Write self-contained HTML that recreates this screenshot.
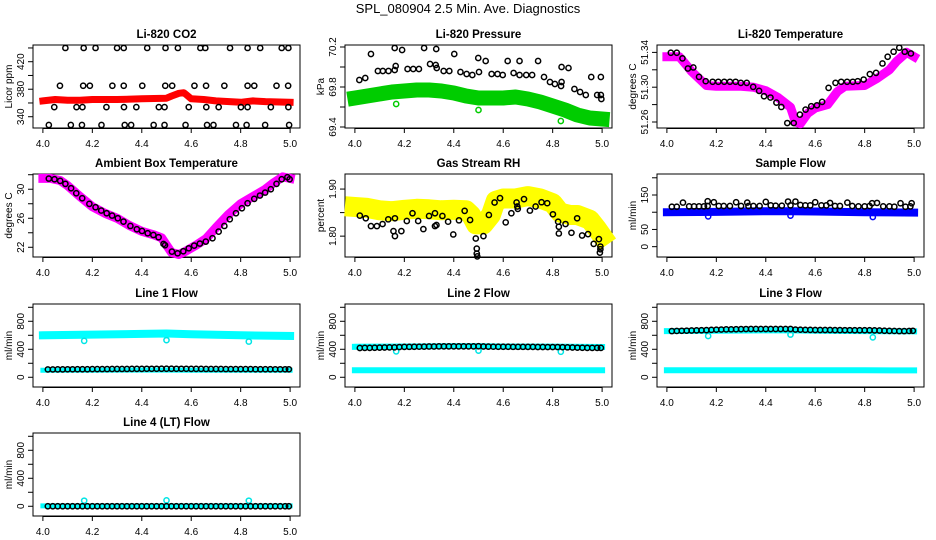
<!DOCTYPE html>
<html><head><meta charset="utf-8"><style>
html,body{margin:0;padding:0;background:#fff;}
svg{display:block;font-family:"Liberation Sans",sans-serif;}
</style></head><body>
<svg id="chart" width="936" height="540" viewBox="0 0 936 540">
<text x="468" y="13" text-anchor="middle" font-size="13">SPL_080904  2.5 Min. Ave. Diagnostics</text>
</svg>
<script>
// ---------- data ----------
const xTicks = [4.0,4.2,4.4,4.6,4.8,5.0];
const xTickLabels = ["4.0","4.2","4.4","4.6","4.8","5.0"];

// CO2
const co2RedX = [4.0,4.05,4.1,4.15,4.2,4.3,4.4,4.5,4.52,4.55,4.57,4.58,4.6,4.65,4.7,4.8,4.85,4.9,5.0];
const co2RedY = [363,365,364,364,365,365,366,367,370,374,375,372,366,365,363,361,363,362,361];
const co2BlkX = [4.091,4.165,4.213,4.30,4.327,4.422,4.496,4.546,4.637,4.657,4.757,4.828,4.879,4.966,4.993,
 4.069,4.163,4.19,4.281,4.327,4.402,4.495,4.523,4.613,4.66,4.734,4.828,4.855,4.945,4.992,
 4.046,4.136,4.16,4.257,4.328,4.378,4.469,4.492,4.59,4.661,4.711,4.801,4.828,4.922,4.993,
 4.024,4.113,4.158,4.237,4.331,4.357,4.448,4.492,4.577,4.664,4.69,4.781,4.824,4.899,4.996];
const co2BlkY = [440,440,440,440,440,440,440,440,440,440,440,440,440,440,440,
 385,385,385,385,385,385,385,385,385,385,385,385,385,385,385,
 354,354,354,354,354,354,354,354,354,354,354,354,354,354,354,
 328,328,328,328,328,328,328,328,328,328,328,328,328,328,328];

// Pressure
const presGreenX = [4.0,4.05,4.1,4.15,4.2,4.25,4.3,4.35,4.4,4.45,4.5,4.55,4.6,4.65,4.7,4.75,4.8,4.85,4.9,4.95,5.0];
const presGreenY = [69.69,69.71,69.73,69.75,69.76,69.77,69.77,69.76,69.74,69.71,69.69,69.69,69.69,69.70,69.68,69.65,69.61,69.57,69.52,69.49,69.48];
const presGreenOutX = [4.167,4.5,4.833];
const presGreenOutY = [69.63,69.57,69.46];
const presBlkX = [4.018,4.042,4.065,4.093,4.113,4.136,4.161,4.165,4.161,4.191,4.213,4.236,4.259,4.28,4.304,4.329,4.327,4.331,4.359,4.382,4.402,4.427,4.452,4.475,4.499,4.502,4.529,4.553,4.577,4.598,4.618,4.642,4.666,4.666,4.693,4.717,4.741,4.765,4.789,4.809,4.834,4.836,4.836,4.864,4.888,4.911,4.934,4.956,4.98,4.995,4.995,4.997];
const presBlkY = [69.87,69.89,70.13,69.96,69.96,69.96,69.97,70.01,70.19,70.17,69.98,69.98,69.98,70.19,70.03,70.18,70.02,69.99,69.96,69.96,70.13,69.95,69.93,69.92,70.09,69.95,70.06,69.93,69.93,69.92,70.06,69.94,70.06,69.92,69.92,69.92,70.06,69.90,69.85,69.83,69.81,69.85,70.0,69.99,69.78,69.75,69.72,69.90,69.72,69.72,69.90,69.68];

// Li-820 temperature
const ltMagX = [4.0,4.05,4.08,4.1,4.13,4.16,4.2,4.3,4.35,4.4,4.45,4.5,4.52,4.54,4.57,4.6,4.65,4.69,4.72,4.8,4.85,4.9,4.93,4.97,5.0];
const ltMagY = [51.335,51.335,51.325,51.318,51.31,51.302,51.301,51.301,51.300,51.296,51.288,51.277,51.26,51.258,51.27,51.276,51.28,51.295,51.301,51.302,51.31,51.32,51.33,51.34,51.335];
const ltBlkX = [4.016,4.040,4.063,4.085,4.107,4.130,4.157,4.185,4.208,4.232,4.255,4.278,4.299,4.323,4.349,4.373,4.393,4.419,4.443,4.463,4.487,4.513,4.538,4.561,4.584,4.607,4.628,4.654,4.682,4.705,4.729,4.752,4.772,4.796,4.821,4.846,4.872,4.893,4.917,4.940,4.962,4.987];
const ltBlkY = [51.3396,51.3396,51.3331,51.3215,51.3227,51.3119,51.3069,51.3062,51.3062,51.3062,51.3062,51.3062,51.3050,51.3050,51.3004,51.2958,51.2896,51.2881,51.2823,51.2773,51.2588,51.2588,51.2685,51.2742,51.2781,51.2792,51.2831,51.2992,51.3050,51.3062,51.3062,51.3062,51.3069,51.3088,51.3150,51.3165,51.3273,51.3350,51.3408,51.3454,51.3408,51.3388];

// Ambient box temperature
const ambMagX = [4.0,4.03,4.07,4.1,4.15,4.2,4.25,4.3,4.35,4.4,4.45,4.48,4.5,4.52,4.55,4.58,4.62,4.66,4.7,4.75,4.8,4.85,4.9,4.93,4.97,5.0];
const ambMagY = [31.5,31.5,31.2,30.5,29.0,27.6,26.7,26.0,25.0,24.2,23.7,23.3,22.3,21.3,21.0,21.5,22.3,23.2,24.7,26.5,28.0,29.0,30.0,30.8,31.7,31.5];
const ambBlkX = [4.024,4.047,4.070,4.091,4.114,4.135,4.159,4.188,4.213,4.236,4.258,4.280,4.303,4.326,4.354,4.380,4.401,4.424,4.447,4.468,4.488,4.494,4.522,4.545,4.568,4.590,4.612,4.635,4.659,4.686,4.711,4.734,4.756,4.781,4.805,4.828,4.855,4.878,4.899,4.922,4.945,4.966,4.989,4.998];
const ambBlkY = [31.47,31.38,31.15,30.74,30.14,29.45,28.76,27.98,27.52,27.06,26.69,26.37,26.0,25.54,24.94,24.48,24.25,23.93,23.7,23.38,22.46,22.28,21.4,21.17,21.45,21.86,22.23,22.51,22.78,23.24,24.16,24.94,25.86,26.69,27.38,28.07,28.67,29.13,29.54,30.0,30.74,31.38,31.66,31.38];

// Gas stream RH
const rhYelX = [4.0,4.05,4.1,4.15,4.2,4.25,4.3,4.35,4.4,4.45,4.47,4.49,4.52,4.55,4.57,4.6,4.65,4.7,4.75,4.8,4.83,4.87,4.9,4.95,4.98,5.0];
const rhYelY = [1.862,1.860,1.855,1.853,1.856,1.858,1.857,1.855,1.856,1.855,1.845,1.825,1.825,1.845,1.875,1.880,1.880,1.885,1.880,1.870,1.850,1.845,1.845,1.835,1.815,1.800];
const rhBlkX = [4.020,4.044,4.065,4.089,4.112,4.135,4.156,4.162,4.162,4.188,4.210,4.233,4.256,4.277,4.300,4.324,4.324,4.330,4.354,4.377,4.398,4.421,4.444,4.466,4.489,4.493,4.493,4.495,4.520,4.542,4.565,4.587,4.610,4.633,4.654,4.657,4.659,4.684,4.708,4.731,4.755,4.778,4.801,4.822,4.825,4.825,4.852,4.876,4.899,4.919,4.943,4.966,4.987,4.993,4.993,4.991];
const rhBlkY = [1.8436,1.8379,1.8214,1.8214,1.8257,1.8357,1.8107,1.8379,1.8000,1.8107,1.8321,1.8486,1.8321,1.8150,1.8429,1.8486,1.8214,1.8236,1.8429,1.8307,1.8036,1.8336,1.8536,1.8343,1.7950,1.7736,1.7629,1.7571,1.8000,1.8450,1.8714,1.8807,1.8293,1.8486,1.8714,1.8629,1.8579,1.8786,1.8543,1.8629,1.8721,1.8700,1.8464,1.8307,1.8200,1.8057,1.8257,1.8071,1.8379,1.8014,1.8043,1.7836,1.7936,1.7779,1.7721,1.7650];

// Sample flow
const sfBlueX = [4.0,4.2,4.4,4.5,4.6,4.8,5.0];
const sfBlueY = [100,101,103,103,102,100,99];
const sfBlueOutX = [4.167,4.5,4.833];
const sfBlueOutY = [88,90,86];
const sfBlkX = [4.02,4.04,4.065,4.09,4.11,4.13,4.15,4.165,4.165,4.19,4.21,4.23,4.255,4.28,4.3,4.325,4.33,4.35,4.375,4.4,4.42,4.44,4.465,4.49,4.5,4.52,4.54,4.56,4.58,4.6,4.625,4.645,4.66,4.68,4.7,4.73,4.75,4.775,4.8,4.82,4.83,4.85,4.875,4.9,4.92,4.945,4.965,4.985,4.99];
const sfBlkY = [116,116,128,117,117,117,117,132,118,129,118,118,118,129,118,128,118,118,118,130,120,119,119,131,120,131,121,120,120,129,120,120,127,118,118,128,118,117,117,118,126,127,117,117,116,126,116,117,126];

// Line flows
const lnBlkX = [4.02,4.04,4.06,4.08,4.10,4.12,4.14,4.16,4.18,4.20,4.22,4.24,4.26,4.28,4.30,4.32,4.34,4.36,4.38,4.40,4.42,4.44,4.46,4.48,4.50,4.52,4.54,4.56,4.58,4.60,4.62,4.64,4.66,4.68,4.70,4.72,4.74,4.76,4.78,4.80,4.82,4.84,4.86,4.88,4.90,4.92,4.94,4.96,4.98,4.995];
const l1BlkY = [112,112,113,113,114,114,115,115,115,116,116,117,117,118,118,119,119,120,120,120,121,121,121,122,122,122,121,121,121,120,120,120,119,119,118,118,117,117,117,116,116,116,115,115,115,115,114,114,114,114];
const l2BlkY = [418,420,420,422,424,425,427,428,432,434,435,436,437,438,440,440,441,441,441,441,442,442,442,442,443,440,438,437,436,436,436,435,435,435,434,434,433,433,432,432,432,430,428,425,423,422,420,420,420,420];
const l3BlkY = [660,662,664,666,668,670,672,674,678,680,682,684,685,686,688,689,690,690,690,690,690,690,690,690,690,682,680,678,677,676,676,675,675,674,674,673,673,672,672,672,672,670,668,665,663,662,660,660,662,664];
const l4BlkY = [0,0,0,0,0,0,0,0,0,0,0,0,0,0,0,0,0,0,0,0,0,0,0,0,0,0,0,0,0,0,0,0,0,0,0,0,0,0,0,0,0,0,0,0,0,0,0,0,0,0];
const lnBandX = [4.0,4.2,4.4,4.5,4.6,4.8,5.0];
const l1CyanHiY = [600,610,620,625,615,600,590];
const l1CyanLoY = [100,100,102,102,101,100,100];
const l2CyanHiY = [435,440,445,445,440,438,432];
const l2CyanLoY = [100,100,100,100,100,100,100];
const l3CyanHiY = [660,665,670,670,665,660,655];
const l3CyanLoY = [100,100,100,100,100,100,98];
const l4CyanY = [5,5,5,5,5,5,5];
const lnOutX = [4.167,4.5,4.833];
const l1OutY = [520,530,510];
const l2OutY = [370,380,365];
const l3OutY = [590,610,570];
const l4OutY = [80,85,80];

// ---------- rendering ----------
const svg = document.getElementById('chart');
const NS = 'http://www.w3.org/2000/svg';
function mk(tag, attrs, parent){
  const e = document.createElementNS(NS, tag);
  for (const k in attrs) e.setAttribute(k, attrs[k]);
  (parent||svg).appendChild(e);
  return e;
}
const BOX_L = 33, BOX_W = 267, BOX_H = 83;
const rowTops = [45,174,304,433];

function makePanel(col,row,key,title,ylab,yMin,yMax,ticks,labels){
  const g = mk('g',{});
  
  
  const x0 = col*312 + BOX_L, y0 = rowTops[row];
  const sx = v => x0 + BOX_W*(0.04/1.08) + (v-4.0)*BOX_W/1.08;
  const sy = v => y0 + BOX_H - (v-yMin)/(yMax-yMin)*BOX_H;
  const t = mk('text',{x:x0+BOX_W/2,y:y0-7,'text-anchor':'middle','font-size':11.5,'font-weight':'bold'},g);
  t.textContent = title;
  
  
  const box = mk('rect',{x:x0,y:y0,width:BOX_W,height:BOX_H,fill:'none',stroke:'#000','stroke-width':1},g);
  
  
  // x axis
  const xa = mk('g',{},g);
  
  
  xTicks.forEach((v,i)=>{
    mk('line',{x1:sx(v),x2:sx(v),y1:y0+BOX_H,y2:y0+BOX_H+5,stroke:'#000'},xa);
    const tl = mk('text',{x:sx(v),y:y0+BOX_H+19,'text-anchor':'middle','font-size':10},xa);
    tl.textContent = xTickLabels[i];
  });
  mk('line',{x1:sx(4),x2:sx(5),y1:y0+BOX_H+0.5,y2:y0+BOX_H+0.5,stroke:'#000'},xa);
  // y axis
  const ya = mk('g',{},g);
  
  
  mk('line',{x1:x0,x2:x0,y1:sy(ticks[0]),y2:sy(ticks[ticks.length-1]),stroke:'#000'},ya);
  ticks.forEach((v,i)=>{
    mk('line',{x1:x0-5,x2:x0,y1:sy(v),y2:sy(v),stroke:'#000'},ya);
    if (labels[i]) {
      const tl = mk('text',{x:0,y:0,'text-anchor':'middle','font-size':10,transform:`translate(${x0-9},${sy(v)}) rotate(-90)`},ya);
      tl.textContent = labels[i];
    }
  });
  const yl = mk('text',{x:0,y:0,'text-anchor':'middle','font-size':10,transform:`translate(${x0-21},${y0+BOX_H/2}) rotate(-90)`},g);
  yl.textContent = ylab;
  
  
  return {g,sx,sy};
}
function band(p,xs,ys,color,w,name){
  const d = xs.map((x,i)=>(i?'L':'M')+p.sx(x).toFixed(1)+','+p.sy(ys[i]).toFixed(1)).join('');
  const e = mk('path',{d:d,fill:'none',stroke:color,'stroke-width':w,'stroke-linejoin':'round','stroke-linecap':'square'},p.g);
  
  
}
function pts(p,xs,ys,color,name){
  const grp = mk('g',{},p.g);
  
  
  xs.forEach((x,i)=>{
    mk('circle',{cx:p.sx(x),cy:p.sy(ys[i]),r:2.6,fill:'none',stroke:color,'stroke-width':1.5},grp);
  });
}

// Row 1
let p = makePanel(0,0,'co2','Li-820 CO2','Licor ppm',323.6,444.3,[340,360,380,400,420,440],['340','','380','','420','']);
band(p,co2RedX,co2RedY,'#ff0000',7,'co2-red-series');
pts(p,co2BlkX,co2BlkY,'#000','co2-black-points');

p = makePanel(1,0,'pressure','Li-820 Pressure','kPa',69.39,70.22,[69.4,69.6,69.8,70.0,70.2],['69.4','','69.8','','70.2']);
band(p,presGreenX,presGreenY,'#00cc00',15,'pressure-green-series');
pts(p,presGreenOutX,presGreenOutY,'#00cc00','pressure-green-outliers');
pts(p,presBlkX,presBlkY,'#000','pressure-black-points');

p = makePanel(2,0,'li820-temp','Li-820 Temperature','degrees C',51.2531,51.3485,[51.26,51.28,51.30,51.32,51.34],['51.26','','51.30','','51.34']);
band(p,ltMagX,ltMagY,'#ff00ff',9,'li820-temp-magenta-series');
pts(p,ltBlkX,ltBlkY,'#000','li820-temp-black-points');

// Row 2
p = makePanel(0,1,'ambient-temp','Ambient Box Temperature','degrees C',20.66,32.1,[22,24,26,28,30,32],['22','','26','','30','']);
band(p,ambMagX,ambMagY,'#ff00ff',9,'ambient-magenta-series');
pts(p,ambBlkX,ambBlkY,'#000','ambient-black-points');

p = makePanel(1,1,'rh','Gas Stream RH','percent',1.7557,1.932,[1.80,1.85,1.90],['1.80','','1.90']);
band(p,rhYelX,rhYelY,'#ffff00',20,'rh-yellow-series');
pts(p,rhBlkX,rhBlkY,'#000','rh-black-points');

p = makePanel(2,1,'sample-flow','Sample Flow','ml/min',-30,211,[0,50,100,150,200],['0','50','','150','']);
band(p,sfBlueX,sfBlueY,'#0000ff',8,'sample-flow-blue-series');
pts(p,sfBlueOutX,sfBlueOutY,'#0000ff','sample-flow-blue-outliers');
pts(p,sfBlkX,sfBlkY,'#000','sample-flow-black-points');

// Row 3/4
const lineTicks = [0,200,400,600,800,1000], lineLabels = ['0','','400','','800',''];
p = makePanel(0,2,'line1','Line 1 Flow','ml/min',-139,1047,lineTicks,lineLabels);
band(p,lnBandX,l1CyanHiY,'#00ffff',8,'line1-cyan-high');
band(p,lnBandX,l1CyanLoY,'#00ffff',5,'line1-cyan-low');
pts(p,lnOutX,l1OutY,'#00e5e5','line1-cyan-outliers');
pts(p,lnBlkX,l1BlkY,'#000','line1-black-points');

p = makePanel(1,2,'line2','Line 2 Flow','ml/min',-139,1047,lineTicks,lineLabels);
band(p,lnBandX,l2CyanHiY,'#00ffff',6,'line2-cyan-high');
band(p,lnBandX,l2CyanLoY,'#00ffff',6,'line2-cyan-low');
pts(p,lnOutX,l2OutY,'#00e5e5','line2-cyan-outliers');
pts(p,lnBlkX,l2BlkY,'#000','line2-black-points');

p = makePanel(2,2,'line3','Line 3 Flow','ml/min',-139,1047,lineTicks,lineLabels);
band(p,lnBandX,l3CyanHiY,'#00ffff',6,'line3-cyan-high');
band(p,lnBandX,l3CyanLoY,'#00ffff',6,'line3-cyan-low');
pts(p,lnOutX,l3OutY,'#00e5e5','line3-cyan-outliers');
pts(p,lnBlkX,l3BlkY,'#000','line3-black-points');

p = makePanel(0,3,'line4','Line 4 (LT) Flow','ml/min',-139,1047,lineTicks,lineLabels);
band(p,lnBandX,l4CyanY,'#00ffff',5,'line4-cyan-series');
pts(p,lnOutX,l4OutY,'#00e5e5','line4-cyan-outliers');
pts(p,lnBlkX,l4BlkY,'#000','line4-black-points');
</script>
</body></html>
